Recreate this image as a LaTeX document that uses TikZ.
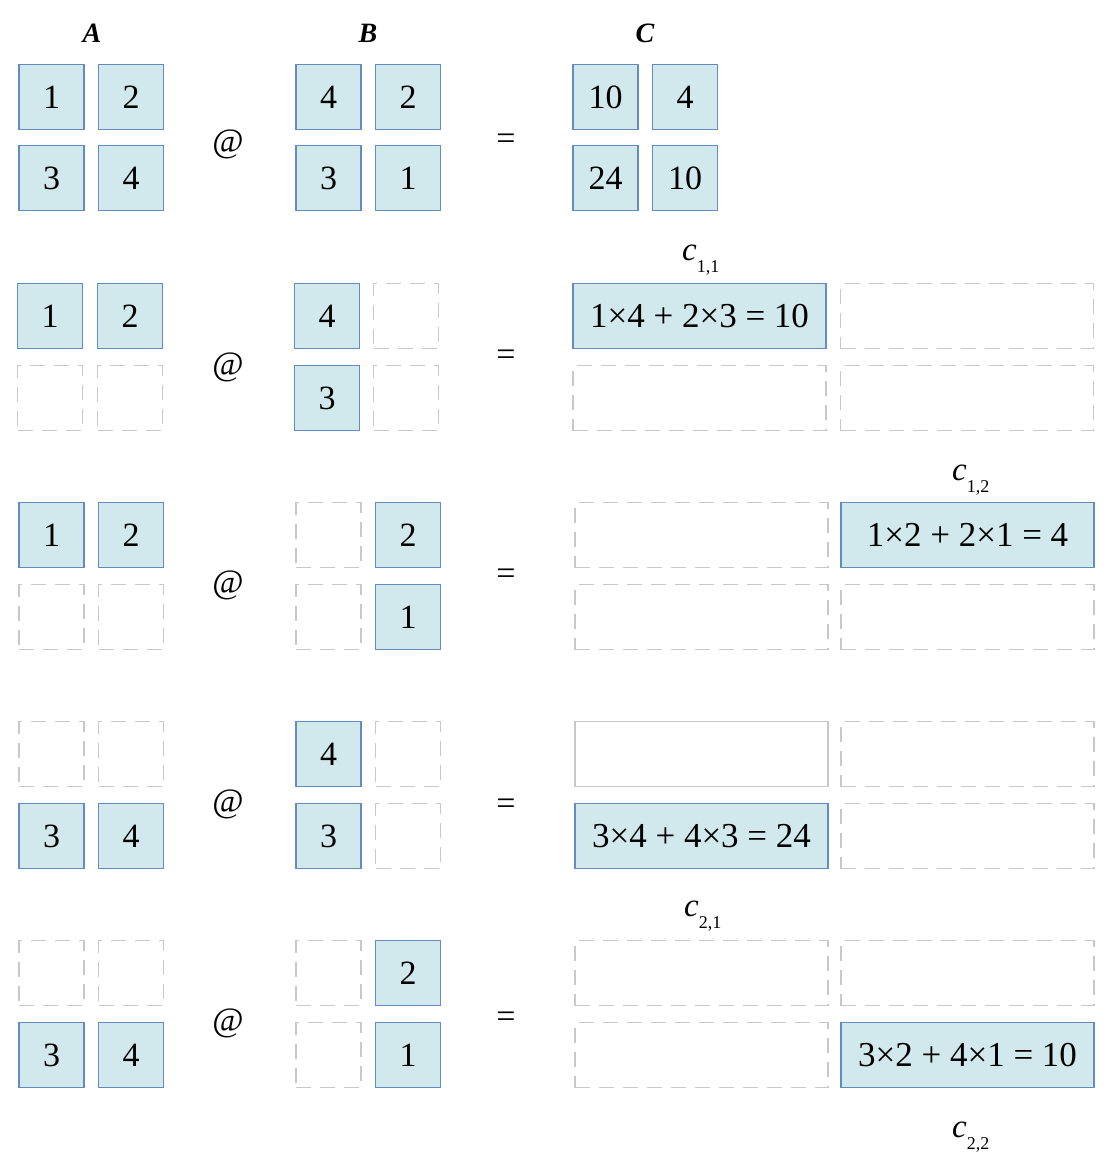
\documentclass[tikz,border=0pt]{standalone}
\usepackage{fontspec}
\setmainfont{Liberation Serif}
\definecolor{cellfill}{RGB}{209,233,236}
\definecolor{cellborder}{RGB}{100,140,195}
\definecolor{ghostgray}{RGB}{200,200,200}
\begin{document}
\begin{tikzpicture}[x=1pt,y=-1pt,
  cell/.style={draw=cellborder, fill=cellfill, line width=1.3pt, minimum width=65pt, minimum height=65pt, inner sep=0pt, font=\fontsize{34}{40}\selectfont},
  ghost/.style={draw=ghostgray, line width=1.3pt, dash pattern=on 15pt off 9pt, minimum width=65pt, minimum height=65pt, inner sep=0pt},
  wide/.style={minimum width=253pt},
  solidgray/.style={draw=ghostgray, line width=1.3pt, minimum width=253pt, minimum height=65pt, inner sep=0pt},
  eqtext/.style={font=\fontsize{35}{40}\selectfont},
  op/.style={inner sep=0pt, font=\fontsize{34}{40}\selectfont},
  head/.style={inner sep=0pt, anchor=base, font=\fontsize{28}{32}\selectfont\bfseries\itshape},
  clabel/.style={inner sep=0pt, anchor=base west, font=\fontsize{33}{36}\selectfont}
]
\useasboundingbox (0,0) rectangle (1115,1167);
\newcommand{\subs}[1]{\raisebox{-12pt}{\fontsize{18}{18}\selectfont #1}}

% headings
\node[head] (hA) at (92,42) {A};
\node[head] (hB) at (368,42) {B};
\node[head] (hC) at (645,42) {C};

% ---------- Row 1 ----------
\node[cell] (r1a11) at (51.5,97) {1};
\node[cell] (r1a12) at (131,97) {2};
\node[cell] (r1a21) at (51.5,178) {3};
\node[cell] (r1a22) at (131,178) {4};
\node[op] (r1at) at (228,144) {@};
\node[cell] (r1b11) at (328.5,97) {4};
\node[cell] (r1b12) at (408,97) {2};
\node[cell] (r1b21) at (328.5,178) {3};
\node[cell] (r1b22) at (408,178) {1};
\node[op] (r1eq) at (506,142) {=};
\node[cell] (r1c11) at (605.5,97) {10};
\node[cell] (r1c12) at (685,97) {4};
\node[cell] (r1c21) at (605.5,178) {24};
\node[cell] (r1c22) at (685,178) {10};

% ---------- Row 2 ----------
\node[cell] (r2a11) at (50,316) {1};
\node[cell] (r2a12) at (130,316) {2};
\node[ghost] (r2a21) at (50,398) {};
\node[ghost] (r2a22) at (130,398) {};
\node[op] (r2at) at (228,367) {@};
\node[cell] (r2b11) at (327,316) {4};
\node[ghost] (r2b12) at (406,316) {};
\node[cell] (r2b21) at (327,398) {3};
\node[ghost] (r2b22) at (406,398) {};
\node[op] (r2eq) at (506,358) {=};
\node[cell,wide,eqtext] (r2c11) at (699.5,316) {1×4 + 2×3 = 10};
\node[ghost,wide] (r2c12) at (967,316) {};
\node[ghost,wide] (r2c21) at (699.5,398) {};
\node[ghost,wide] (r2c22) at (967,398) {};
\node[clabel] (lc11) at (682,260) {\textit{c}\subs{1,1}};

% ---------- Row 3 ----------
\node[cell] (r3a11) at (51.5,535) {1};
\node[cell] (r3a12) at (131,535) {2};
\node[ghost] (r3a21) at (51.5,617) {};
\node[ghost] (r3a22) at (131,617) {};
\node[op] (r3at) at (228,585) {@};
\node[ghost] (r3b11) at (328.5,535) {};
\node[cell] (r3b12) at (408,535) {2};
\node[ghost] (r3b21) at (328.5,617) {};
\node[cell] (r3b22) at (408,617) {1};
\node[op] (r3eq) at (506,577) {=};
\node[ghost,wide] (r3c11) at (701.5,535) {};
\node[cell,wide,eqtext] (r3c12) at (967.5,535) {1×2 + 2×1 = 4};
\node[ghost,wide] (r3c21) at (701.5,617) {};
\node[ghost,wide] (r3c22) at (967.5,617) {};
\node[clabel] (lc12) at (952,480) {\textit{c}\subs{1,2}};

% ---------- Row 4 ----------
\node[ghost] (r4a11) at (51.5,754) {};
\node[ghost] (r4a12) at (131,754) {};
\node[cell] (r4a21) at (51.5,836) {3};
\node[cell] (r4a22) at (131,836) {4};
\node[op] (r4at) at (228,804) {@};
\node[cell] (r4b11) at (328.5,754) {4};
\node[ghost] (r4b12) at (408,754) {};
\node[cell] (r4b21) at (328.5,836) {3};
\node[ghost] (r4b22) at (408,836) {};
\node[op] (r4eq) at (506,807) {=};
\node[solidgray] (r4c11) at (701.5,754) {};
\node[ghost,wide] (r4c12) at (967.5,754) {};
\node[cell,wide,eqtext] (r4c21) at (701.5,836) {3×4 + 4×3 = 24};
\node[ghost,wide] (r4c22) at (967.5,836) {};
\node[clabel] (lc21) at (684,916) {\textit{c}\subs{2,1}};

% ---------- Row 5 ----------
\node[ghost] (r5a11) at (51.5,973) {};
\node[ghost] (r5a12) at (131,973) {};
\node[cell] (r5a21) at (51.5,1055) {3};
\node[cell] (r5a22) at (131,1055) {4};
\node[op] (r5at) at (228,1023) {@};
\node[ghost] (r5b11) at (328.5,973) {};
\node[cell] (r5b12) at (408,973) {2};
\node[ghost] (r5b21) at (328.5,1055) {};
\node[cell] (r5b22) at (408,1055) {1};
\node[op] (r5eq) at (506,1020) {=};
\node[ghost,wide] (r5c11) at (701.5,973) {};
\node[ghost,wide] (r5c12) at (967.5,973) {};
\node[ghost,wide] (r5c21) at (701.5,1055) {};
\node[cell,wide,eqtext] (r5c22) at (967.5,1055) {3×2 + 4×1 = 10};
\node[clabel] (lc22) at (952,1137) {\textit{c}\subs{2,2}};
\end{tikzpicture}
\end{document}
